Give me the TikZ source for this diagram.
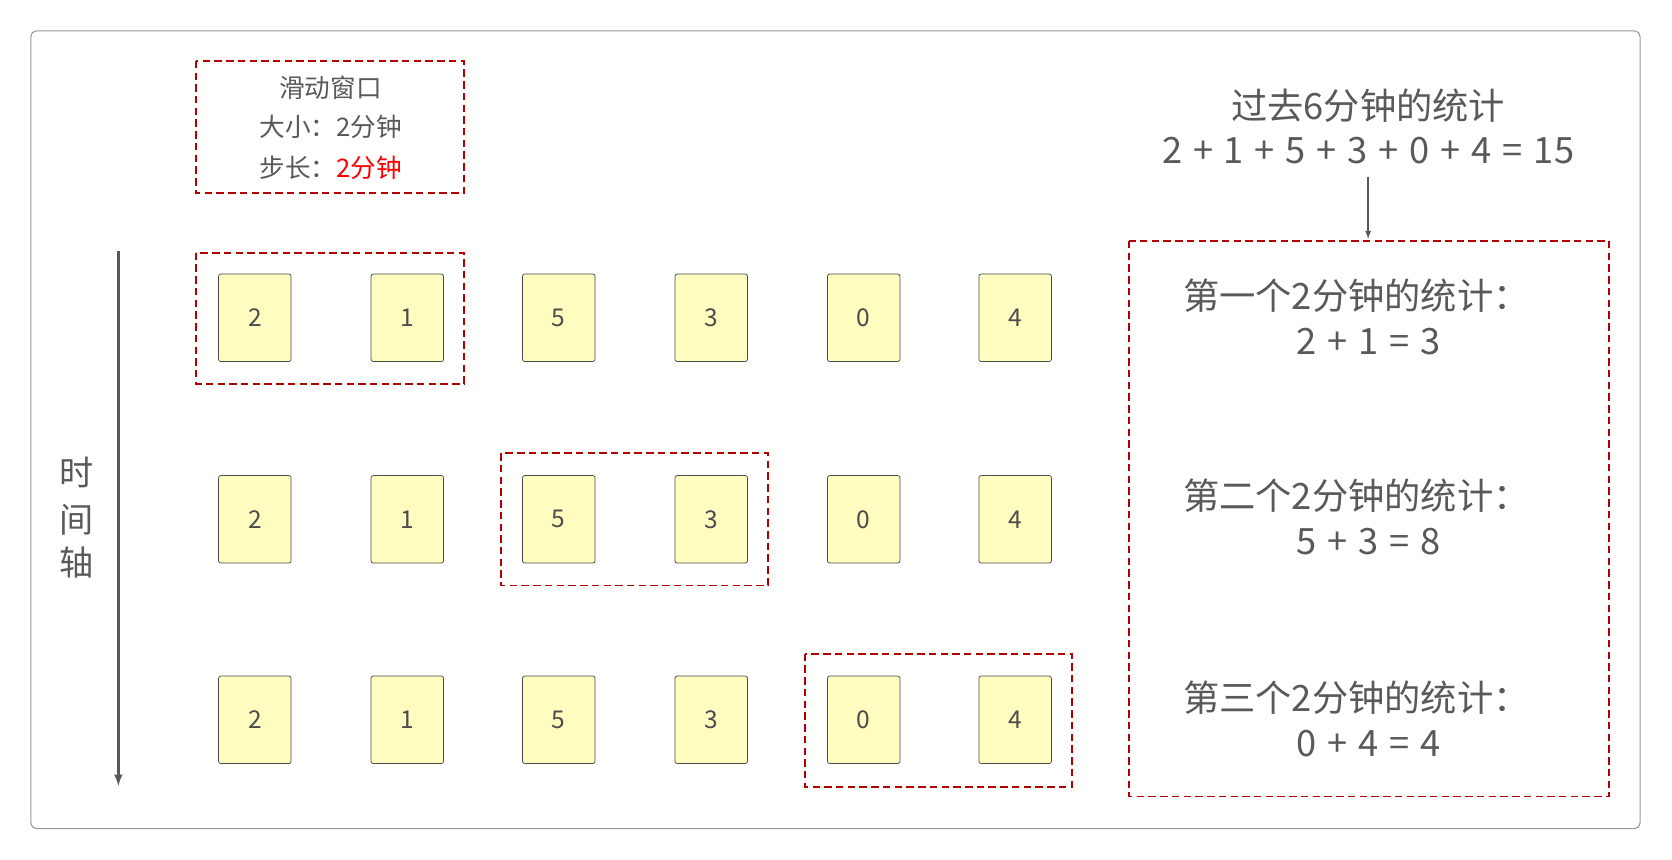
\documentclass[tikz,border=0pt]{standalone}
\usepackage{fontspec}
\setmainfont{Noto Sans CJK SC}
\newcommand{\pl}{\hspace{0.3em}+\hspace{0.3em}}
\newcommand{\eq}{\hspace{0.3em}=\hspace{0.3em}}
\begin{document}
\begin{tikzpicture}[x=1pt,y=-1pt,
  card/.style={draw=black!70,fill=yellow!25,rounded corners=2pt,minimum width=68pt,minimum height=82pt,inner sep=0pt,font=\fontsize{23}{26}\selectfont,text=black!70,line width=0.7pt},
  win/.style={draw=red!70!black,dash pattern=on 7pt off 4pt,line width=1.7pt},
  txt/.style={text=black!65,inner sep=0pt},
  big/.style={txt,font=\fontsize{34}{38}\selectfont},
  mid/.style={txt,font=\fontsize{32}{36}\selectfont},
  sm/.style={txt,font=\fontsize{24}{28}\selectfont}]
\useasboundingbox (0,0) rectangle (1568,806);
\draw[black!40,rounded corners=5pt,line width=1pt] (29,29) rectangle (1538,777);
\draw[win] (184,57) rectangle (435,181);
\node[sm] (l1) at (310,82) {滑动窗口};
\node[sm] (l2) at (310,119) {大小：2分钟};
\node[sm] (l3) at (310,157) {步长：\textcolor{red}{2分钟}};
\foreach \r/\y in {1/298,2/487,3/675}{
  \foreach \i/\x/\v in {1/239/2,2/382/1,3/524/5,4/667/3,5/810/0,6/952/4}{
    \node[card] (c\r\i) at (\x,\y) {\v};
  }
}
\draw[win] (184,237) rectangle (435,360);
\draw[win] (470,425) rectangle (720,549);
\draw[win] (755,613) rectangle (1005,738);
\coordinate (t1) at (111,235); \coordinate (t2) at (111,737);
\draw[black!65,line width=2.6pt,-latex] (t1) -- (t2);
\node[mid] (ta) at (72,443) {时};
\node[mid] (tb) at (72,487) {间};
\node[mid] (tc) at (72,528) {轴};
\node[big] (h1) at (1283,99) {过去6分钟的统计};
\node[big] (h2) at (1283,141) {2\pl 1\pl 5\pl 3\pl 0\pl 4\eq 15};
\draw[win] (1059,226) rectangle (1509,747);
\coordinate (bt) at (1283,224);
\draw[black!65,line width=1.6pt,-latex] (h2.south) ++(0,12) -- (bt);
\node[big] (s1) at (1272,277) {第一个2分钟的统计：};
\node[big] (r1) at (1283,320) {2\pl 1\eq 3};
\node[big] (s2) at (1272,465) {第二个2分钟的统计：};
\node[big] (r2) at (1283,508) {5\pl 3\eq 8};
\node[big] (s3) at (1272,654) {第三个2分钟的统计：};
\node[big] (r3) at (1283,697) {0\pl 4\eq 4};
\end{tikzpicture}
\end{document}
